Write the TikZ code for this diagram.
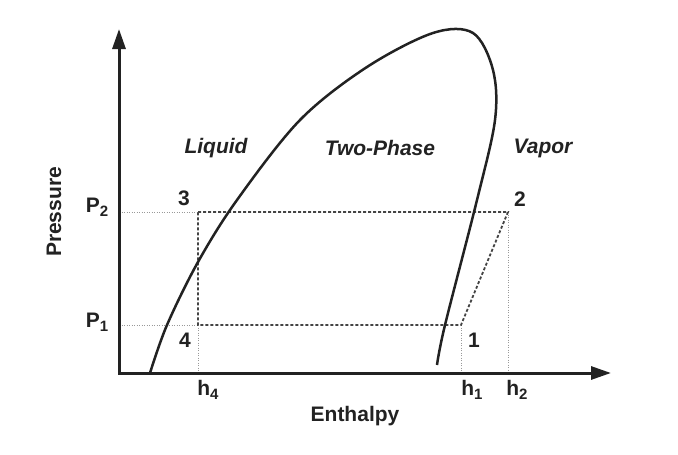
\documentclass[tikz,border=0pt]{standalone}
\usepackage{fontspec}
\setmainfont{Liberation Sans}
\usetikzlibrary{arrows.meta}
\definecolor{ink}{HTML}{222222}
\definecolor{dashc}{HTML}{444444}
\definecolor{dotc}{HTML}{999999}
\newcommand{\sbs}[1]{\raisebox{-0.35ex}{\fontsize{15}{15}\selectfont #1}}
\begin{document}
\begin{tikzpicture}[x=1pt,y=-1pt,
  axis/.style={draw=ink, line width=3pt, line join=miter,
    {Triangle[length=20pt,width=13pt]}-{Triangle[length=20pt,width=13pt]}},
  dome/.style={draw=ink, line width=2.5pt},
  cyc/.style={draw=dashc, line width=1.8pt, dash pattern=on 3pt off 2pt},
  guide/.style={draw=dotc, line width=0.9pt, dash pattern=on 1pt off 1.5pt},
  lbl/.style={text=ink, font=\fontsize{21}{21}\selectfont\bfseries, inner sep=0pt},
  region/.style={text=ink, font=\fontsize{21}{21}\selectfont\bfseries\itshape, inner sep=0pt}]
\useasboundingbox (0,0) rectangle (678,455);
% key coordinates
\coordinate (O) at (119,373);
\coordinate (ytip) at (119,29);
\coordinate (xtip) at (611,373);
\coordinate (P2ax) at (119,212);
\coordinate (P1ax) at (119,325);
\coordinate (p3) at (198,212);
\coordinate (p4) at (198,325);
\coordinate (p1) at (461,325);
\coordinate (p2) at (508,212);
\coordinate (h4ax) at (198,373);
\coordinate (h1ax) at (461,373);
\coordinate (h2ax) at (508,373);
% guides
\draw[guide] (P2ax) -- (p3);
\draw[guide] (P1ax) -- (p4);
\draw[guide] (p4) -- (h4ax);
\draw[guide] (p1) -- (h1ax);
\draw[guide] (p2) -- (h2ax);
% cycle
\draw[cyc] (p3) -- (p2) -- (p1) -- (p4) -- cycle;
% saturation dome
\draw[dome] plot[smooth, tension=0.55] coordinates {(150,373) (167,325) (198,262) (237,200) (300,120) (367,67) (433,33) (473,33) (493,70) (495,120) (477,200) (445,325) (437,365)};
% axes
\draw[axis] (ytip) -- (O) -- (xtip);
% labels
\node[lbl] (l3) at (184,198) {3};
\node[lbl] (l4) at (185,340) {4};
\node[lbl] (l1) at (474,340) {1};
\node[lbl] (l2) at (520,199) {2};
\node[lbl] (lP2) at (97,207) {P\sbs{2}};
\node[lbl] (lP1) at (97,322) {P\sbs{1}};
\node[lbl] (lh4) at (208,390) {h\sbs{4}};
\node[lbl] (lh1) at (472,390) {h\sbs{1}};
\node[lbl] (lh2) at (517,390) {h\sbs{2}};
\node[lbl] (xlab) at (355,416) {Enthalpy};
\node[lbl, rotate=90] (ylab) at (54,212) {Pressure};
\node[region] (liq) at (216,148) {Liquid};
\node[region] (two) at (380,148) {Two-Phase};
\node[region] (vap) at (543,148) {Vapor};
\end{tikzpicture}
\end{document}
